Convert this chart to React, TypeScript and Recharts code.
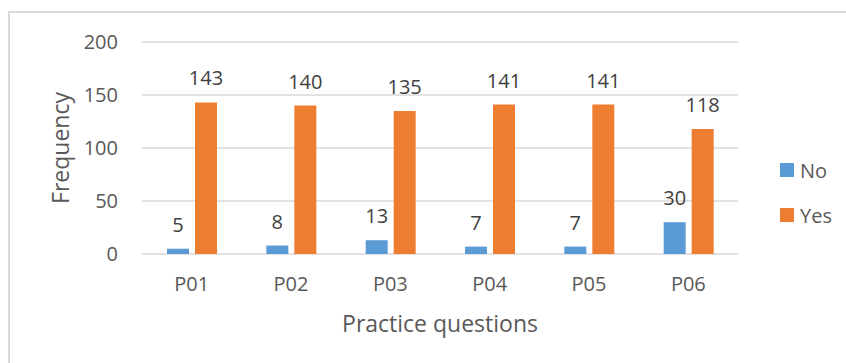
import React from 'react';
import { BarChart, Bar, XAxis, YAxis, CartesianGrid, Legend, LabelList, Label } from 'recharts';

const categories = ['P01', 'P02', 'P03', 'P04', 'P05', 'P06'];
const noValues = [5, 8, 13, 7, 7, 30];
const yesValues = [143, 140, 135, 141, 141, 118];
const yTicks = [0, 50, 100, 150, 200];
const seriesNames = ['No', 'Yes'];
const seriesColors = ['#5B9BD5', '#ED7D31'];

const data = categories.map((c, i) => ({ name: c, No: noValues[i], Yes: yesValues[i] }));

const FONT = '"Open Sans", "DejaVu Sans", sans-serif';

const LegendContent = () => (
  <div style={{ fontFamily: FONT, fontSize: 20, color: '#595959' }}>
    {seriesNames.map((n, i) => (
      <div key={n} style={{ display: 'flex', alignItems: 'center', height: 30, marginBottom: i === 0 ? 15 : 0 }}>
        <div style={{ width: 14, height: 14, background: seriesColors[i], marginRight: 6 }} />
        <span>{n}</span>
      </div>
    ))}
  </div>
);

export default function App() {
  return (
    <div style={{ position: 'absolute', left: 0, top: 0, width: 846, height: 363, overflow: 'hidden', background: '#fff' }}>
      <div
        style={{
          position: 'absolute',
          left: 8,
          top: 11,
          width: 900,
          height: 400,
          borderTop: '2px solid #d9d9d9',
          borderLeft: '2px solid #d9d9d9',
        }}
      />
      <div style={{ position: 'absolute', left: 0, top: 0 }}>
        <BarChart
          width={846}
          height={363}
          data={data}
          margin={{ top: 42, right: 108, bottom: 79, left: 0 }}
          barSize={22}
          barGap={6}
          style={{ fontFamily: FONT }}
        >
          <CartesianGrid vertical={false} stroke="#d9d9d9" strokeWidth={1.5} />
          <XAxis
            dataKey="name"
            height={30}
            axisLine={false}
            tickLine={false}
            tickSize={0}
            tickMargin={23}
            tick={{ fill: '#595959', fontSize: 20 }}
          >
            <Label
              content={(props: any) => {
                const vb = props.viewBox || {};
                return (
                  <text
                    x={vb.x + vb.width / 2}
                    y={332}
                    textAnchor="middle"
                    fill="#595959"
                    fontSize={23}
                    fontFamily={FONT}
                  >
                    Practice questions
                  </text>
                );
              }}
            />
          </XAxis>
          <YAxis
            width={142}
            domain={[0, 200]}
            ticks={yTicks}
            axisLine={false}
            tickLine={false}
            tickSize={0}
            tickMargin={24}
            tick={{ fill: '#595959', fontSize: 20 }}
          >
            <Label
              content={(props: any) => {
                const vb = props.viewBox || {};
                const cy = vb.y + vb.height / 2;
                return (
                  <text
                    x={60}
                    y={cy}
                    transform={`rotate(-90 60 ${cy})`}
                    textAnchor="middle"
                    dominantBaseline="central"
                    fill="#595959"
                    fontSize={23}
                    fontFamily={FONT}
                  >
                    Frequency
                  </text>
                );
              }}
            />
          </YAxis>
          <Legend
            layout="vertical"
            align="center"
            verticalAlign="middle"
            content={<LegendContent />}
            wrapperStyle={{ left: 780, top: 155, width: 80 }}
          />
          <Bar dataKey="No" fill={seriesColors[0]} isAnimationActive={false}>
            <LabelList dataKey="No" position="top" offset={17} fill="#404040" fontSize={20} />
          </Bar>
          <Bar dataKey="Yes" fill={seriesColors[1]} isAnimationActive={false}>
            <LabelList dataKey="Yes" position="top" offset={17} fill="#404040" fontSize={20} />
          </Bar>
        </BarChart>
      </div>
    </div>
  );
}
